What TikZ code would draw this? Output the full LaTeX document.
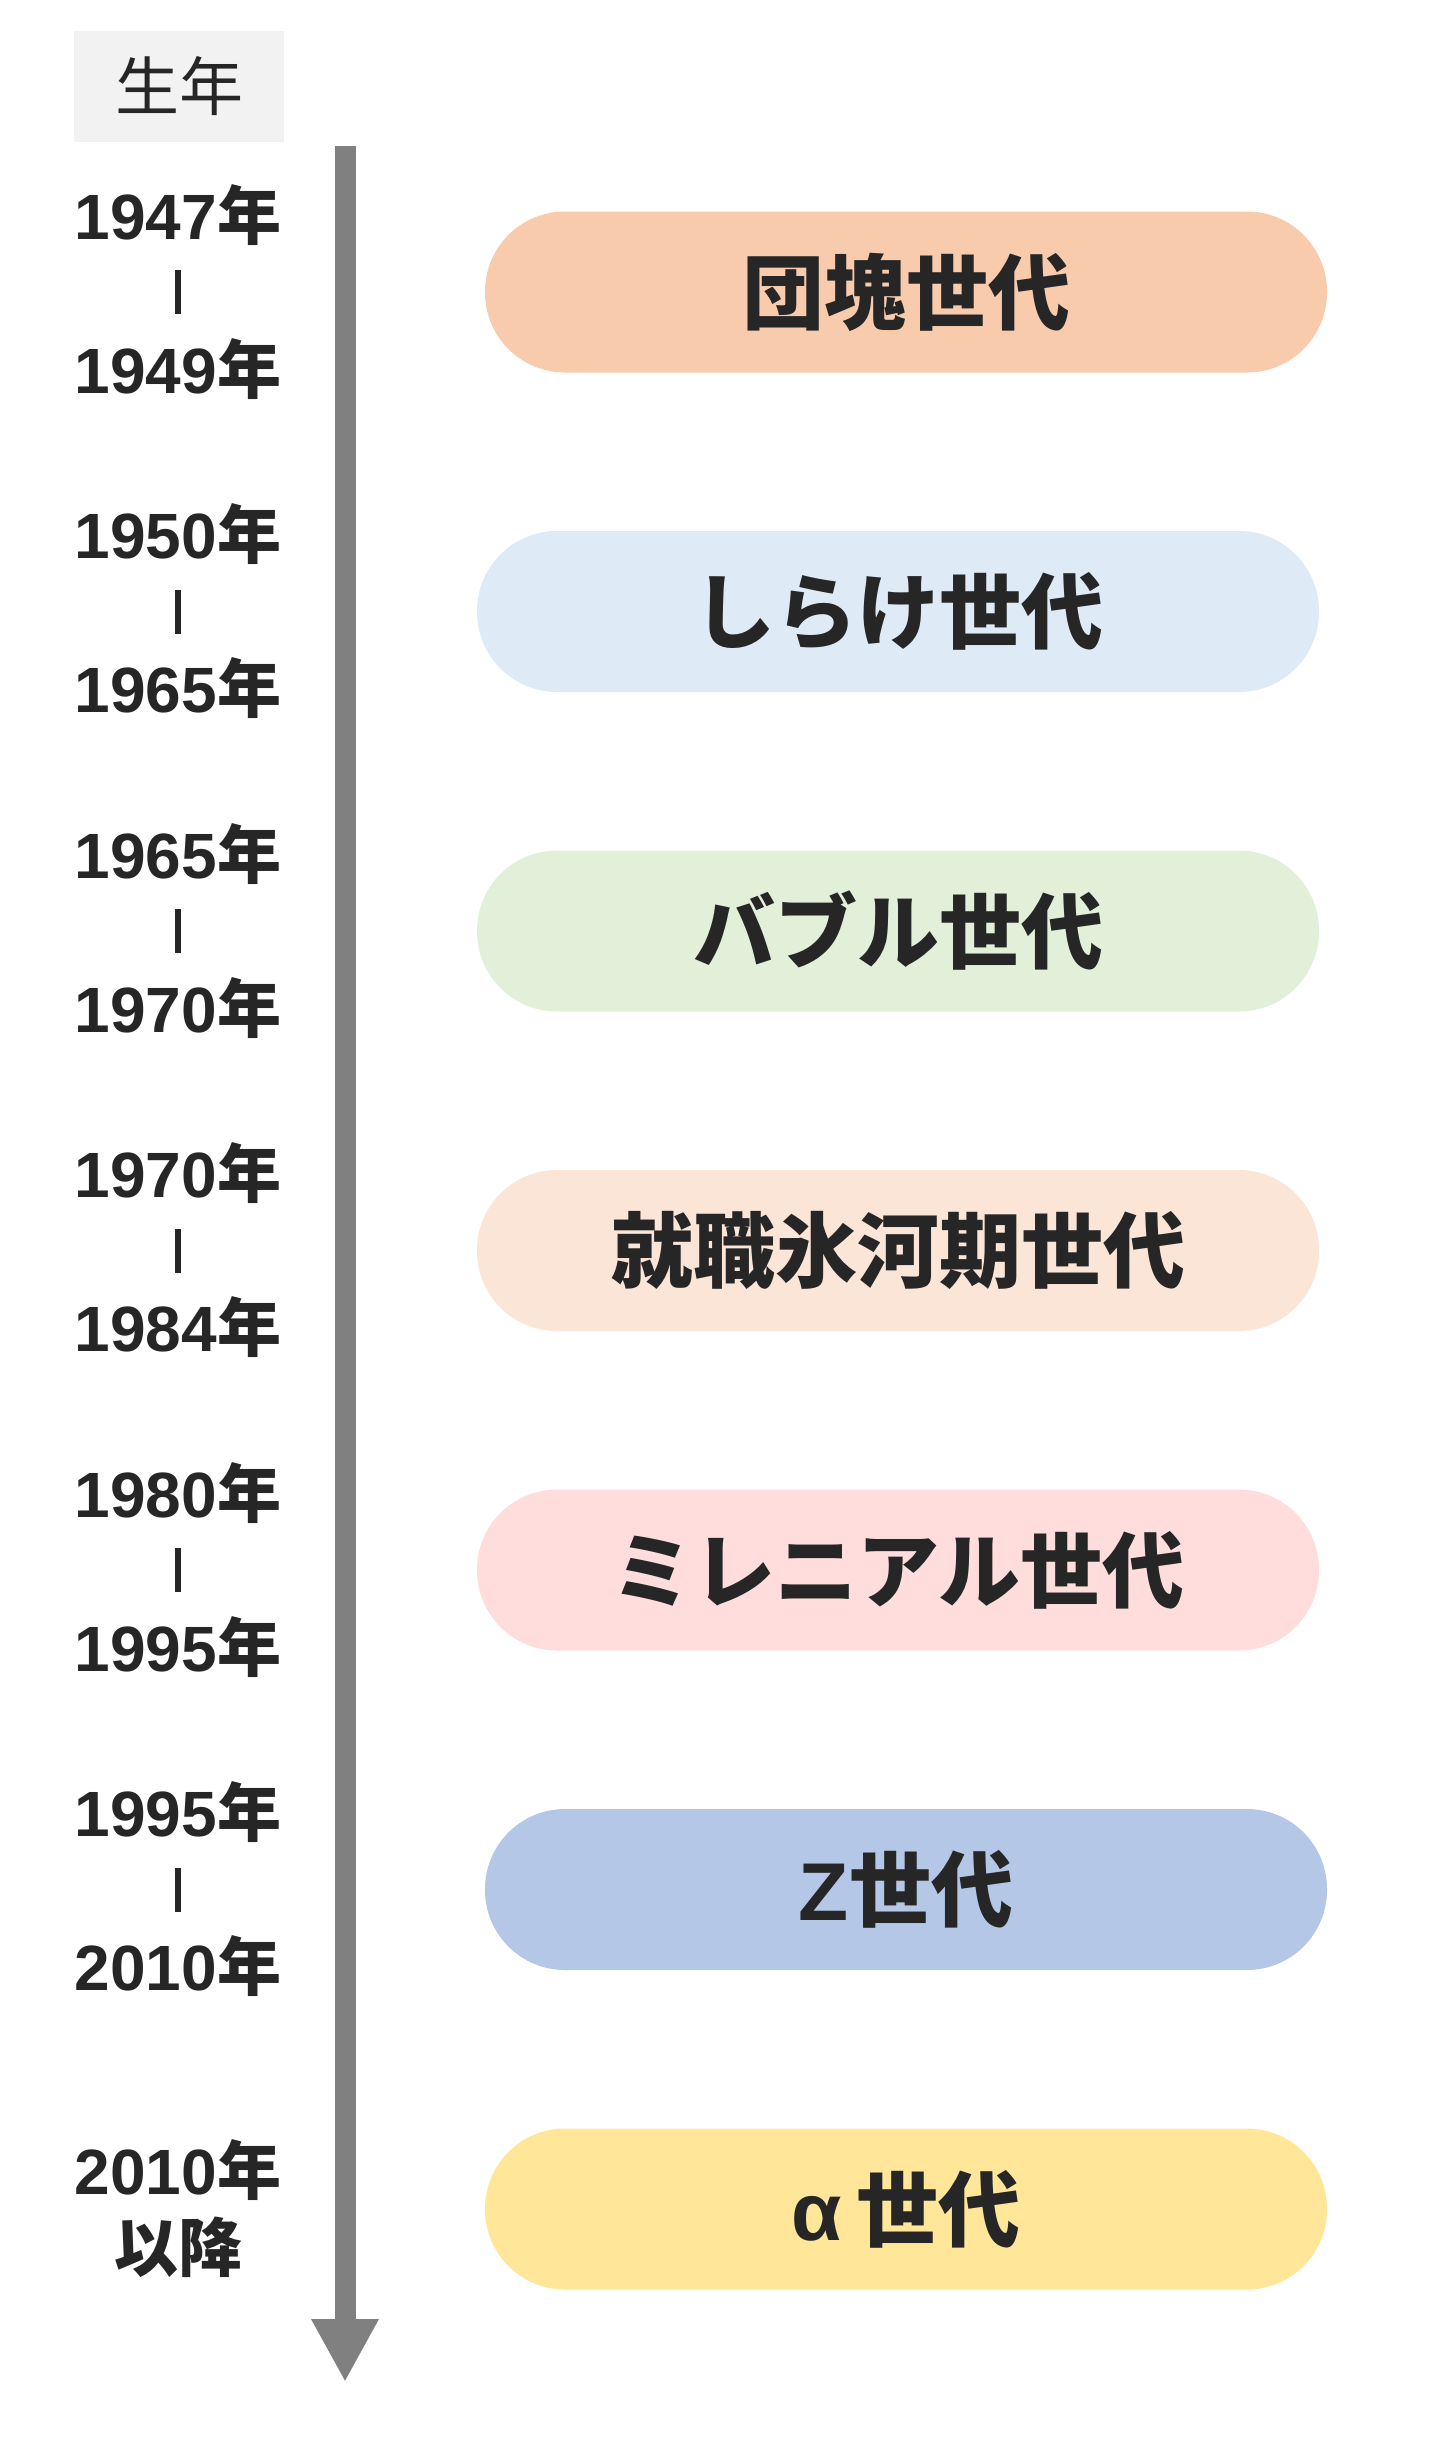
\documentclass[tikz,border=0pt]{standalone}
\usepackage{fontspec}
\setmainfont{Noto Sans CJK JP}
\newfontfamily\lat{Liberation Sans}
\usetikzlibrary{arrows.meta,positioning}
\definecolor{txtgray}{HTML}{262626}
\definecolor{headgray}{HTML}{F2F2F2}
\definecolor{arrowgray}{HTML}{808080}
\definecolor{dankai}{HTML}{F8CBAD}
\definecolor{shirake}{HTML}{DEEBF7}
\definecolor{bubble}{HTML}{E2F0D9}
\definecolor{hyouga}{HTML}{FBE5D6}
\definecolor{mille}{HTML}{FFDDDD}
\definecolor{genz}{HTML}{B4C7E7}
\definecolor{alpha}{HTML}{FFE699}
\def\yrbar{\raisebox{2pt}{\rule{6pt}{44pt}}}
\def\yr#1{{\lat #1}年}
\tikzstyle{gen} = [rectangle, rounded corners=80pt, minimum width=842pt, minimum height=161pt, inner sep=0pt, text=txtgray, font=\fontsize{82}{98}\selectfont\bfseries]
\tikzstyle{yr} = [align=center, inner sep=0pt, text=txtgray, font=\fontsize{64}{77}\selectfont\bfseries]
\tikzstyle{arrow} = [line width=21pt, draw=arrowgray, -{Triangle[width=63pt,length=63pt]}]

\begin{document}
\begin{tikzpicture}[x=1pt,y=-1pt]
      \useasboundingbox (0,0) rectangle (1447,2447);
      \node[fill=headgray, minimum width=210pt, minimum height=111pt, inner sep=0pt, text=txtgray, font=\fontsize{64}{77}\selectfont] (head) at (179,86.5) {生年};
      \coordinate (top) at (345,146);
      \coordinate (bottom) at (345,2382);
      \draw[arrow] (top)--(bottom);
      \node[gen, fill=dankai] (g1) at (906,292) {団塊世代};
      \node[gen, fill=shirake] (g2) at (898,611.5) {しらけ世代};
      \node[gen, fill=bubble] (g3) at (898,931) {バブル世代};
      \node[gen, fill=hyouga] (g4) at (898,1250.5) {就職氷河期世代};
      \node[gen, fill=mille] (g5) at (898,1570) {ミレニアル世代};
      \node[gen, fill=genz] (g6) at (906,1889.5) {{\lat Z}世代};
      \node[gen, fill=alpha] (g7) at (906,2209) {{\lat α}\hspace{15pt}世代};
      \node[yr] (y1) at (178,292) {\yr{1947}\\\yrbar\\\yr{1949}};
      \node[yr] (y2) at (178,611.5) {\yr{1950}\\\yrbar\\\yr{1965}};
      \node[yr] (y3) at (178,931) {\yr{1965}\\\yrbar\\\yr{1970}};
      \node[yr] (y4) at (178,1250.5) {\yr{1970}\\\yrbar\\\yr{1984}};
      \node[yr] (y5) at (178,1570) {\yr{1980}\\\yrbar\\\yr{1995}};
      \node[yr] (y6) at (178,1889.5) {\yr{1995}\\\yrbar\\\yr{2010}};
      \node[yr] (y7) at (178,2209) {\yr{2010}\\以降};
\end{tikzpicture}
\end{document}
